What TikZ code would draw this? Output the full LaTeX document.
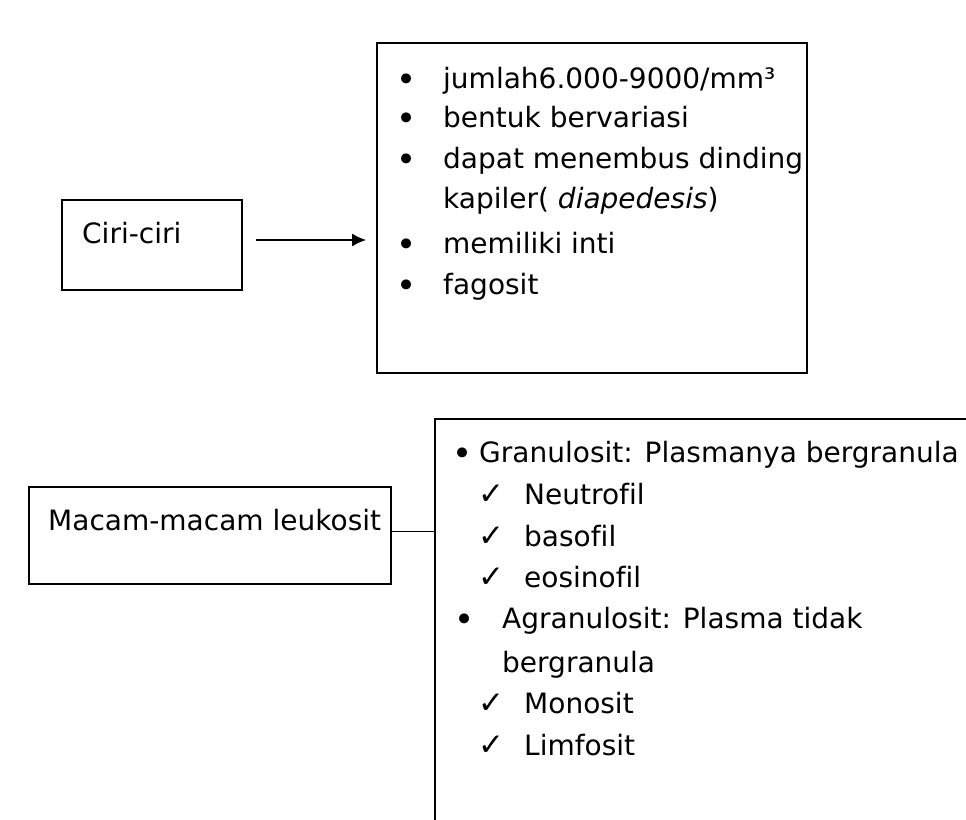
\documentclass[tikz,border=0pt]{standalone}
\usepackage{fontspec}
\setmainfont[Ligatures=NoCommon]{DejaVu Sans}
\usetikzlibrary{arrows.meta}

\begin{document}
\begin{tikzpicture}
  [x=1pt,y=-1pt,every node/.style={inner sep=0pt,font=\fontsize{28}{33}\selectfont},
   box/.style={draw,line width=1.8pt,minimum width=#1},
   txt/.style={anchor=base west},
   dotmark/.style={anchor=base west,yshift=-3pt,font=\fontsize{34}{33}\selectfont},
   tick/.style={anchor=base west,font=\fontsize{31}{33}\selectfont},
   link/.style={line width=1.6pt}]
  \path[use as bounding box,clip] (0,0) rectangle (966,819);
  \node[box=180,minimum height=90]  (ciri)      at (152,245)     {};
  \node[box=430,minimum height=330] (ciriList)  at (592,208)     {};
  \node[box=362,minimum height=97]  (macam)     at (210,535.5)   {};
  \node[box=565,minimum height=451] (macamList) at (717.5,644.5) {};
  \node[txt] (ciriT)  at (82,243) {Ciri-ciri};
  \node[txt] (macamT) at (48,530) {Macam-macam leukosit};
  % ciri-ciri
  \foreach \i/\y in {1/88,2/127,3/168,4/253,5/294}
    \node[dotmark] (dot\i) at (396,\y) {•};
  \foreach \i/\y/\t in {1/88/{jumlah6.000-9000/mm³},2/127/{bentuk bervariasi},
      3/168/{dapat menembus dinding},4/208/{kapiler( \textit{diapedesis})},
      5/253/{memiliki inti},6/294/{fagosit}}
    \node[txt] (ciri\i) at (443,\y) {\t};
  % macam leukosit
  \node[dotmark] (dotA) at (452,462) {•};
  \node[dotmark] (dotB) at (454,628) {•};
  \node[txt] (gran)  at (479,462) {Granulosit: Plasmanya bergranula};
  \node[txt] (agran) at (502,628) {Agranulosit: Plasma tidak};
  \node[txt] (agran2) at (502,672) {bergranula};
  \foreach \i/\y/\t in {1/504/Neutrofil,2/546/basofil,3/587/eosinofil,4/713/Monosit,5/755/Limfosit}{
    \node[tick] (chk\i) at (478,\y) {✓};
    \node[txt] (sel\i) at (524,\y) {\t};
  }
  \draw[link,-{Latex[length=14pt,width=13pt]},shorten <=13pt,shorten >=10pt]
    ([yshift=5pt]ciri.east) -- ([yshift=5pt]ciri.east -| ciriList.west);
  \draw[link] ([yshift=4pt]macam.east) -- ([yshift=4pt]macam.east -| macamList.west);
\end{tikzpicture}
\end{document}
